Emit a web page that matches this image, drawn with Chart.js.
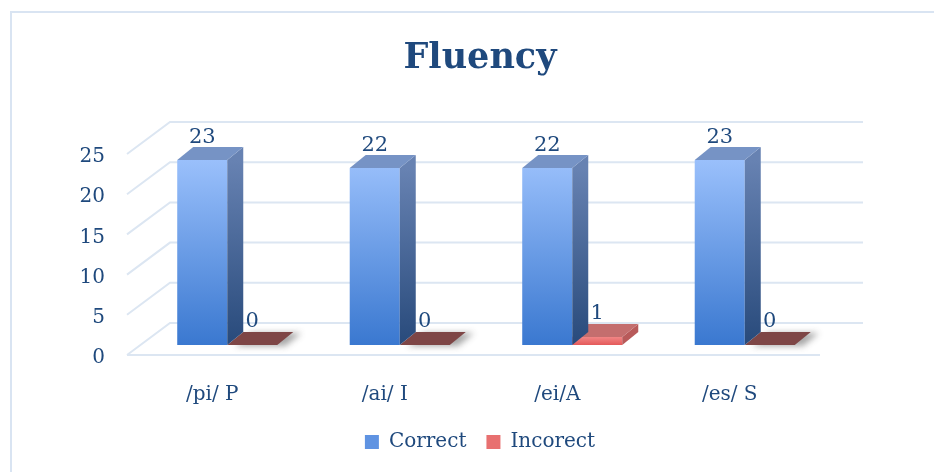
<!DOCTYPE html>
<html><head><meta charset="utf-8">
<script src="https://cdn.jsdelivr.net/npm/chart.js@4/dist/chart.umd.min.js"></script>
<style>html,body{margin:0;padding:0;background:#fff}#wrap{width:934px;height:472px}</style>
</head><body><div id="wrap"><canvas id="c" width="934" height="472"></canvas></div>
<script>
const categories = ['/pi/ P', '/ai/ I', '/ei/A', '/es/ S'];
const correct = [23, 22, 22, 23];
const incorrect = [0, 0, 1, 0];
const yTickValues = [0, 5, 10, 15, 20, 25];
const seriesNames = ['Correct', 'Incorect'];

const TEXT = '#1f497d';
const FONT = "'DejaVu Serif', serif";
const DX = 16, DY = 13;          // bar depth
const BACK = {dx: 29, dy: -22};  // back wall offset
const FRONT = {dx: -14, dy: 10}; // front plane offset
const GRID = '#dce6f2';

function poly(ctx, pts, fill) {
  ctx.beginPath();
  ctx.moveTo(pts[0][0], pts[0][1]);
  for (let i = 1; i < pts.length; i++) ctx.lineTo(pts[i][0], pts[i][1]);
  ctx.closePath();
  ctx.fillStyle = fill;
  ctx.fill();
}

const threeD = {
  id: 'threeD',
  beforeDraw(chart) {
    const ctx = chart.ctx;
    ctx.save();
    ctx.strokeStyle = '#d9e4f2';
    ctx.lineWidth = 2;
    ctx.strokeRect(11, 12, 1200, 1200);
    ctx.restore();
  },
  beforeDatasetsDraw(chart) {
    const ctx = chart.ctx, a = chart.chartArea, ys = chart.scales.y;
    ctx.save();
    ctx.strokeStyle = GRID;
    ctx.lineWidth = 2;
    yTickValues.forEach(v => {
      const y = ys.getPixelForValue(v);
      ctx.beginPath();
      ctx.moveTo(a.left + FRONT.dx, y + FRONT.dy);
      ctx.lineTo(a.left + BACK.dx, y + BACK.dy);
      ctx.lineTo(a.right + BACK.dx + 3, y + BACK.dy);
      ctx.stroke();
    });
    const y0 = ys.getPixelForValue(0);
    ctx.beginPath();
    ctx.moveTo(a.left + FRONT.dx, y0 + FRONT.dy);
    ctx.lineTo(a.right + FRONT.dx + 3, y0 + FRONT.dy);
    ctx.stroke();
    ctx.restore();
  },
  afterDatasetDraw(chart, args) {
    const ctx = chart.ctx;
    const meta = chart.getDatasetMeta(args.index);
    ctx.save();
    meta.data.forEach(el => {
      const {x, y, base, width} = el.getProps(['x', 'y', 'base', 'width'], true);
      const l = x - width / 2, r = x + width / 2;
      const h = base - y;
      if (args.index === 0) {
        const gs = ctx.createLinearGradient(0, y, 0, base);
        gs.addColorStop(0, '#6782b2'); gs.addColorStop(1, '#284a7b');
        poly(ctx, [[r, y], [r + DX, y - DY], [r + DX, base - DY], [r, base]], gs);
        poly(ctx, [[l, y], [l + DX, y - DY], [r + DX, y - DY], [r, y]], '#7693c5');
      } else {
        if (h < 1) {
          ctx.save();
          ctx.shadowColor = 'rgba(60,60,60,0.45)';
          ctx.shadowBlur = 6; ctx.shadowOffsetX = 8; ctx.shadowOffsetY = 1;
          poly(ctx, [[l, y], [l + DX, y - DY], [r + DX, y - DY], [r, y]], '#7e4646');
          ctx.restore();
        } else {
          poly(ctx, [[r, y], [r + DX, y - DY], [r + DX, base - DY], [r, base]], '#b85a5a');
          poly(ctx, [[l, y], [l + DX, y - DY], [r + DX, y - DY], [r, y]], '#c46e6e');
        }
      }
    });
    ctx.restore();
  },
  afterDatasetsDraw(chart) {
    const ctx = chart.ctx;
    ctx.save();
    ctx.font = '21px ' + FONT;
    ctx.fillStyle = TEXT;
    ctx.textAlign = 'center';
    ctx.textBaseline = 'middle';
    chart.data.datasets.forEach((ds, i) => {
      chart.getDatasetMeta(i).data.forEach((el, j) => {
        const {x, y} = el.getProps(['x', 'y'], true);
        ctx.fillText(String(ds.data[j]), x, y - 23);
      });
    });
    ctx.restore();
  }
};

function blueGrad(c) {
  const a = c.chart.chartArea;
  if (!a) return '#5a8fe0';
  const g = c.chart.ctx.createLinearGradient(0, a.top, 0, a.bottom);
  g.addColorStop(0, '#a2c6ff'); g.addColorStop(1, '#3a78d0');
  return g;
}
function redGrad(c) {
  const a = c.chart.chartArea;
  if (!a) return '#e86a6a';
  const g = c.chart.ctx.createLinearGradient(0, a.bottom - 10, 0, a.bottom);
  g.addColorStop(0, '#f59090'); g.addColorStop(1, '#e45a5a');
  return g;
}

new Chart(document.getElementById('c'), {
  type: 'bar',
  data: {
    labels: categories,
    datasets: [
      {label: seriesNames[0], data: correct, backgroundColor: blueGrad, borderWidth: 0},
      {label: seriesNames[1], data: incorrect, backgroundColor: redGrad, borderWidth: 0}
    ]
  },
  options: {
    responsive: false,
    animation: false,
    devicePixelRatio: 1,
    categoryPercentage: 0.58,
    barPercentage: 1,
    layout: {padding: {left: 70, right: 44, top: 0, bottom: 10}},
    plugins: {
      title: {
        display: true, text: 'Fluency', color: TEXT,
        font: {family: FONT, size: 35, weight: 'bold', lineHeight: 1.2},
        padding: {top: 38, bottom: 64}
      },
      legend: {
        position: 'bottom',
        labels: {
          color: TEXT, font: {family: FONT, size: 20},
          boxWidth: 14, boxHeight: 14, padding: 20,
          generateLabels: () => [
            {text: seriesNames[0], fillStyle: '#5f93e2', strokeStyle: '#5f93e2', lineWidth: 0, datasetIndex: 0, hidden: false, fontColor: TEXT},
            {text: seriesNames[1], fillStyle: '#e87070', strokeStyle: '#e87070', lineWidth: 0, datasetIndex: 1, hidden: false, fontColor: TEXT}
          ]
        },
        onClick: null
      },
      tooltip: {enabled: false}
    },
    scales: {
      x: {
        grid: {display: false}, border: {display: false},
        ticks: {color: TEXT, font: {family: FONT, size: 20}, padding: 30, labelOffset: -15, maxRotation: 0},
        afterFit: s => { s.height = 67; }
      },
      y: {
        min: 0, max: 25,
        grid: {display: false}, border: {display: false},
        ticks: {stepSize: 5, color: TEXT, font: {family: FONT, size: 20}, padding: 28, labelOffset: 13},
        afterFit: s => { s.width = 71; }
      },
      y2: {
        position: 'right', min: 0, max: 25,
        grid: {display: false}, border: {display: false},
        ticks: {display: false},
        afterFit: s => { s.width = 59; }
      }
    }
  },
  plugins: [threeD]
});
</script>
</body></html>
